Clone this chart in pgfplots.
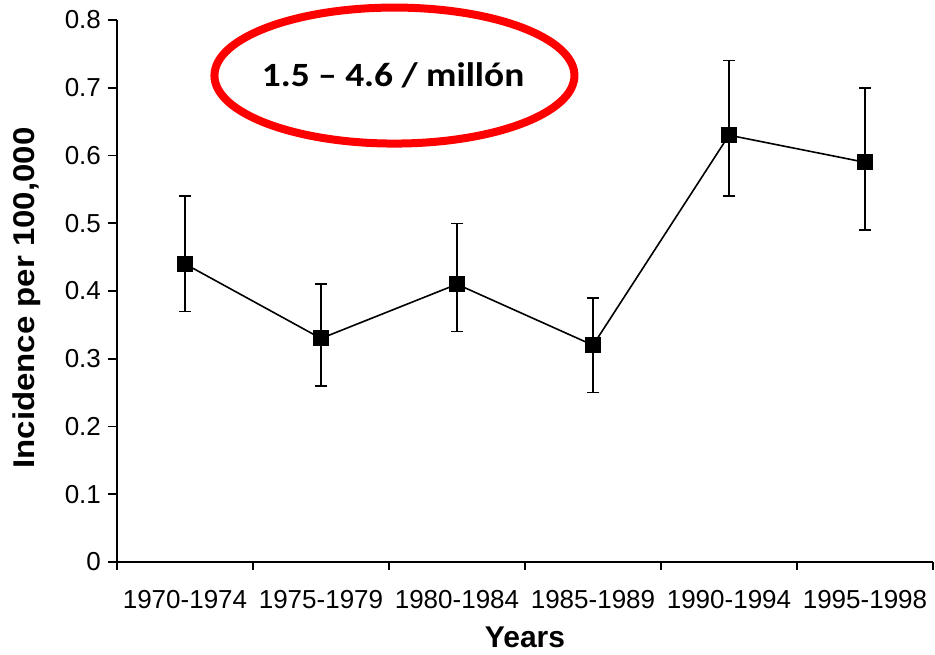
\documentclass[border=0pt]{standalone}
\usepackage{fontspec}
\setmainfont{Liberation Sans}
\newfontfamily\calib[FakeStretch=1.1]{Carlito}
\usepackage{pgfplots}
\pgfplotsset{compat=1.18}

\begin{document}
\begin{tikzpicture}
    \begin{axis}[
            at={(0,0)}, anchor=origin,
            scale only axis,
            width=408pt, height=271pt,
            axis lines=left,
            axis line style={-, line width=0.8pt},
            xmin=0, xmax=6,
            ymin=0, ymax=0.8,
            ytick={0,0.1,...,0.8},
            xtick={0.5,1.5,...,5.5},
            xticklabels={1970-1974,1975-1979,1980-1984,1985-1989,1990-1994,1995-1998},
            minor xtick={0,1,...,6},
            tick align=outside,
            major tick length=4.5pt,
            minor tick length=4pt,
            major x tick style={draw=none},
            minor x tick style={line width=0.8pt, black},
            y tick style={line width=0.8pt, black},
            /pgf/number format/assume math mode=true,
            /pgf/number format/fixed,
            /pgf/number format/precision=1,
            tick label style={font=\fontsize{13}{15}\selectfont},
            xticklabel style={yshift=-6pt},
            xlabel={\textbf{Years}},
            ylabel={\scalebox{1.1}[1]{\textbf{Incidence per 100,000}}},
            label style={font=\fontsize{15}{18}\selectfont},
            xlabel style={at={(axis description cs:0.5,0)}, anchor=center, yshift=-37.5pt},
            ylabel style={at={(axis description cs:-0.11,0.487)}, anchor=center},
            clip=false,
        ]
        \addplot[
            color=black,
            line width=0.8pt,
            mark=square*,
            mark size=3.6pt,
            error bars/.cd,
                y dir=both, y explicit,
                error bar style={line width=0.75pt, black},
                error mark options={rotate=90, mark size=3.1pt, line width=0.75pt, black},
        ]
        coordinates {
                (0.5,0.44) += (0,0.10) -= (0,0.07)
                (1.5,0.33) += (0,0.08) -= (0,0.07)
                (2.5,0.41) += (0,0.09) -= (0,0.07)
                (3.5,0.32) += (0,0.07) -= (0,0.07)
                (4.5,0.63) += (0,0.11) -= (0,0.09)
                (5.5,0.59) += (0,0.11) -= (0,0.10)
            };
        % red ellipse with the range
        \draw[red, line width=4pt] (axis cs:2.04,0.718) ellipse [x radius=90pt, y radius=34pt];
        \node[font=\calib\bfseries\fontsize{17}{20}\selectfont] at (axis cs:2.03,0.718) {1.5 – 4.6 / millón};
    \end{axis}
    \pgfresetboundingbox
    \path (-58.5pt,-46pt) rectangle (409pt,281pt);
\end{tikzpicture}
\end{document}
